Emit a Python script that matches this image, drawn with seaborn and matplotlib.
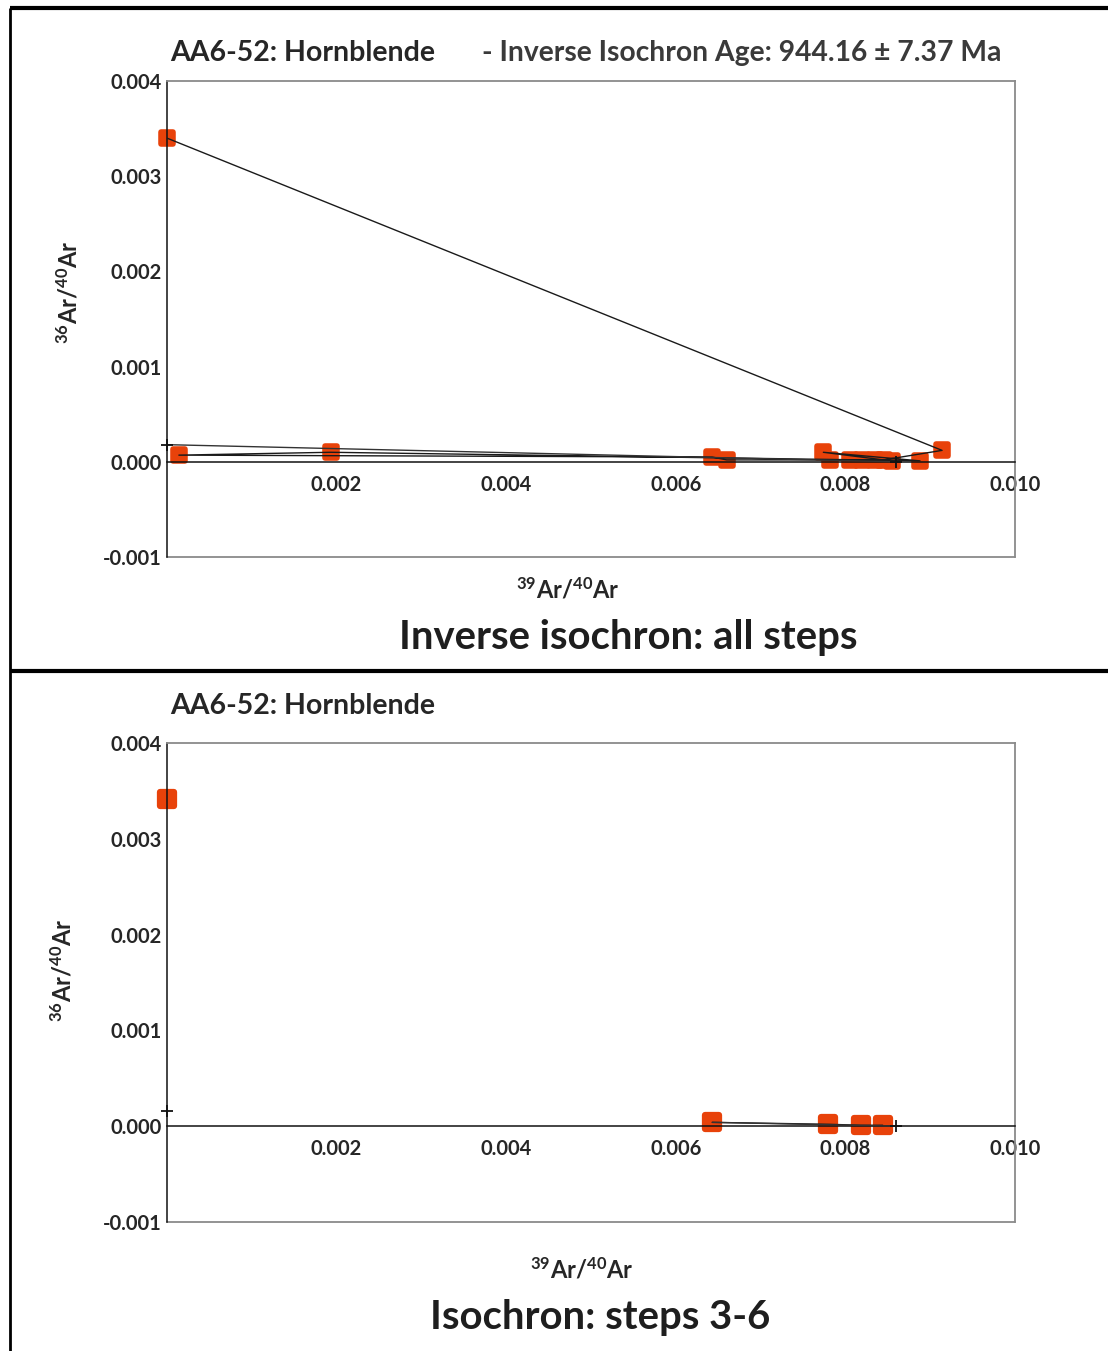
import matplotlib
matplotlib.use("Agg")
import matplotlib.pyplot as plt
from matplotlib.lines import Line2D
import seaborn as sns
import pandas as pd

# --- step data: 39Ar/40Ar (x) and 36Ar/40Ar (y), in heating-step order ---
all_x = [0.00000, 0.00914, 0.00845, 0.00774, 0.00888, 0.00835, 0.00782,
         0.00660, 0.00643, 0.00014, 0.00193, 0.00820, 0.00805, 0.00855]
all_y = [0.00340, 0.00012, 0.00002, 0.00010, 0.00001, 0.00002, 0.00002,
         0.00002, 0.00005, 0.00007, 0.00010, 0.00002, 0.00002, 0.00001]

sel_x = [0.00643, 0.00780, 0.00818, 0.00844]
sel_y = [0.00004, 0.00002, 0.00001, 0.00001]
atm_x = [0.00000]
atm_y = [0.00342]

# isochron fit: y-intercept and x-intercept
fit_all = {"y0": 0.00018, "x0": 0.00860}
fit_sel = {"y0": 0.00016, "x0": 0.00860}

x_ticks = [0.002, 0.004, 0.006, 0.008, 0.010]
y_ticks = [-0.001, 0.000, 0.001, 0.002, 0.003, 0.004]

sample_title = "AA6-52: Hornblende"
age_text = "- Inverse Isochron Age: 944.16 \u00b1 7.37 Ma"
caption_top = "Inverse isochron: all steps"
caption_bottom = "Isochron: steps 3-6"
x_label = r"$^{39}$Ar/$^{40}$Ar"
y_label = r"$^{36}$Ar/$^{40}$Ar"

sns.set_theme(style="white")
plt.rcParams["font.family"] = ["Lato", "DejaVu Sans"]
plt.rcParams["mathtext.fontset"] = "custom"
plt.rcParams["mathtext.rm"] = "Lato:bold"
plt.rcParams["mathtext.bf"] = "Lato:bold"
plt.rcParams["mathtext.default"] = "bf"

MARK = "#E8420A"
TXT = "#262626"
GRAY = "#8a8a8a"

W, H = 1108, 1351
fig = plt.figure(figsize=(W / 100, H / 100), dpi=100)


def fx(px):
    return px / W


def fy(py):
    return 1 - py / H


def style_axes(ax):
    ax.set_xlim(0, 0.010)
    ax.set_ylim(-0.001, 0.004)
    ax.set_facecolor("white")
    for s in ("top", "right"):
        ax.spines[s].set_color(GRAY)
        ax.spines[s].set_linewidth(1.3)
    ax.spines["left"].set_color("#111111")
    ax.spines["left"].set_linewidth(1.1)
    ax.spines["bottom"].set_position(("data", 0))
    ax.spines["bottom"].set_color("#111111")
    ax.spines["bottom"].set_linewidth(1.1)
    ax.plot([0, 1], [0, 0], transform=ax.transAxes, color=GRAY, lw=1.3,
            clip_on=False)
    ax.set_xticks(x_ticks)
    ax.set_xticklabels([f"{v:.3f}" for v in x_ticks])
    ax.set_yticks(y_ticks)
    ax.set_yticklabels([f"{v:.3f}" for v in y_ticks])
    ax.tick_params(axis="x", direction="inout", length=15, width=1.1,
                   color="#777777", pad=2, labelsize=14.5, labelcolor=TXT)
    ax.tick_params(axis="y", direction="inout", length=12, width=1.1,
                   color="#555555", pad=-2, labelsize=14.5, labelcolor=TXT)
    for lab in ax.get_xticklabels() + ax.get_yticklabels():
        lab.set_fontweight("bold")
    ax.set_xlabel(x_label, fontsize=17, color=TXT, fontweight="bold")
    ax.set_ylabel(y_label, fontsize=17, color=TXT, fontweight="bold")


def rounded(coll):
    coll.set_joinstyle("round")


# ---------------- top panel: all steps ----------------
ax1 = fig.add_axes([fx(167), fy(557), fx(1015) - fx(167), fy(81) - fy(557)])
style_axes(ax1)
df_all = pd.DataFrame({"x": all_x, "y": all_y})
sns.lineplot(data=df_all, x="x", y="y", sort=False, color="#1a1a1a",
             lw=1.0, ax=ax1, zorder=3)
sns.lineplot(x=[0.0, fit_all["x0"]], y=[fit_all["y0"], 0.0], color="#333333",
             lw=1.0, ax=ax1, zorder=3)
sns.scatterplot(data=df_all, x="x", y="y", marker="s", s=64, color=MARK,
                edgecolor=MARK, linewidth=4, ax=ax1, zorder=2, clip_on=False)
rounded(ax1.collections[-1])
ax1.plot([0.0, fit_all["x0"]], [fit_all["y0"], 0.0], ls="none", marker="+",
         ms=9, mew=1.3, color="#111111", clip_on=False, zorder=4)
ax1.xaxis.set_label_coords((568 - 167) / 848, (557 - 577) / 476)
ax1.yaxis.set_label_coords((82 - 167) / 848, (557 - 292) / 476)

# ---------------- bottom panel: steps 3-6 ----------------
ax2 = fig.add_axes([fx(167), fy(1222), fx(1015) - fx(167), fy(743) - fy(1222)])
style_axes(ax2)
df_sel = pd.DataFrame({"x": sel_x, "y": sel_y})
sns.lineplot(data=df_sel, x="x", y="y", sort=False, color="#1a1a1a",
             lw=1.0, ax=ax2, zorder=3)
sns.lineplot(x=[sel_x[0], fit_sel["x0"]],
             y=[fit_sel["y0"] * (1 - sel_x[0] / fit_sel["x0"]), 0.0],
             color="#333333", lw=1.0, ax=ax2, zorder=3)
sns.scatterplot(data=df_sel, x="x", y="y", marker="s", s=110, color=MARK,
                edgecolor=MARK, linewidth=4.5, ax=ax2, zorder=2, clip_on=False)
rounded(ax2.collections[-1])
sns.scatterplot(x=atm_x, y=atm_y, marker="s", s=110, color=MARK,
                edgecolor=MARK, linewidth=4.5, ax=ax2, zorder=2, clip_on=False)
rounded(ax2.collections[-1])
ax2.plot([0.0, fit_sel["x0"]], [fit_sel["y0"], 0.0], ls="none", marker="+",
         ms=9, mew=1.3, color="#111111", clip_on=False, zorder=4)
ax2.xaxis.set_label_coords((582 - 167) / 848, (1222 - 1257) / 479)
ax2.yaxis.set_label_coords((76 - 167) / 848, (1222 - 970) / 479)

# ---------------- titles and captions ----------------
fig.text(fx(170), fy(53), sample_title, ha="left", va="center", fontsize=20.5,
         fontweight="bold", color=TXT)
fig.text(fx(482), fy(53), age_text, ha="left", va="center", fontsize=20.3,
         fontweight="bold", color="#3a3a3a")
fig.text(fx(628), fy(637), caption_top, ha="center", va="center",
         fontsize=28.8, fontweight="bold", color="#1e1e1e")
fig.text(fx(170), fy(706), sample_title, ha="left", va="center", fontsize=20.5,
         fontweight="bold", color=TXT)
fig.text(fx(600), fy(1317), caption_bottom, ha="center", va="center",
         fontsize=28.8, fontweight="bold", color="#1e1e1e")

# ---------------- panel frame lines ----------------
for xs, ys, lw in [([fx(10), 1.0], [fy(8), fy(8)], 3.0),
                   ([fx(10), 1.0], [fy(671), fy(671)], 3.0),
                   ([fx(10), fx(10)], [0.0, fy(8)], 2.0)]:
    fig.add_artist(Line2D(xs, ys, transform=fig.transFigure, color="black",
                          lw=lw, solid_capstyle="butt"))

fig.savefig("out.png", dpi=100)
